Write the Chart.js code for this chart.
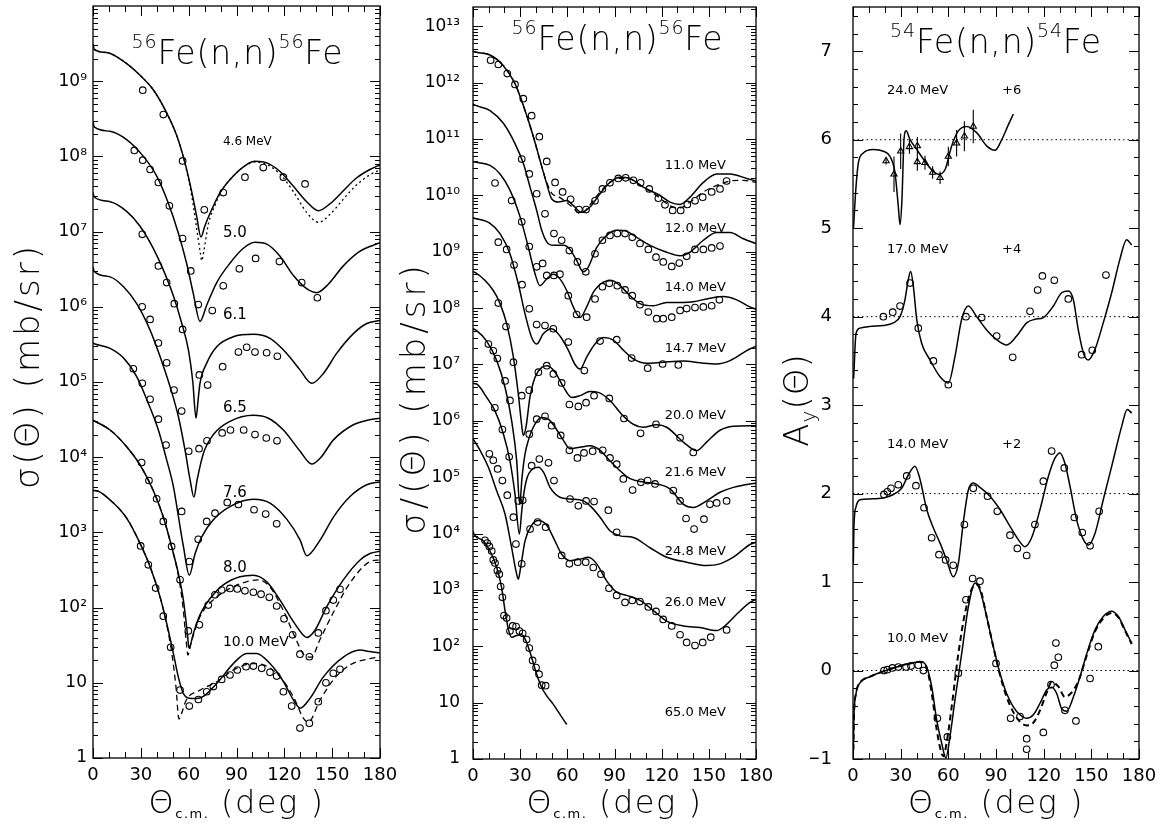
<!DOCTYPE html>
<html><head><meta charset="utf-8">
<script src="https://cdn.jsdelivr.net/npm/chart.js@4.4.1/dist/chart.umd.min.js"></script>
<style>
html,body{margin:0;padding:0;background:#fff;}
#wrap{position:relative;width:1164px;height:827px;overflow:hidden;background:#fff}
canvas{position:absolute;top:0}
</style></head><body>
<div id="wrap">
<canvas id="c1" width="400" height="827" style="left:0px;width:400px;height:827px"></canvas>
<canvas id="c2" width="390" height="827" style="left:390px;width:390px;height:827px"></canvas>
<canvas id="c3" width="384" height="827" style="left:780px;width:384px;height:827px"></canvas>
</div>
<script>
// ---------------- DATA : panel 1, 56Fe(n,n) 4.6 - 10.0 MeV ----------------
const p1_xTicks = [0, 30, 60, 90, 120, 150, 180];
const p1_yTicks = [1, 10, 1e2, 1e3, 1e4, 1e5, 1e6, 1e7, 1e8, 1e9];
const p1_c46 = [[0,3.1e9],[0.8,2.65e9],[8.6,2.4e9],[19,1.85e9],[29.5,1.2e9],[37.8,7.7e8],[46.2,3.8e8],[52.5,1.9e8],[57.7,8.2e7],[61.9,3.4e7],[65,1.6e7],[67.7,8.5e6],[70.2,1.2e7],[74.4,1.95e7],[79.7,3.3e7],[88,5.5e7],[96.4,7.8e7],[101.6,8.6e7],[109,8.2e7],[117.3,6.3e7],[125.7,4e7],[134,2.5e7],[141.3,1.9e7],[148.7,2.35e7],[157,3.5e7],[165.4,5.2e7],[173.7,6.7e7],[180,7.7e7]];
const p1_c46dot = [[0,3.1e9],[0.8,2.65e9],[8.6,2.4e9],[19,1.85e9],[29.5,1.2e9],[37.8,7.7e8],[46.2,3.8e8],[52.5,1.9e8],[57.7,8e7],[61.9,3e7],[65,1.1e7],[67.3,5.2e6],[68.2,4.1e6],[69.5,5.5e6],[72.5,1.3e7],[76,2.1e7],[80,3.3e7],[88,5.5e7],[96.4,7.7e7],[101.6,8.4e7],[109,7.8e7],[117.3,5.8e7],[125.7,3.4e7],[134,1.8e7],[141.5,1.33e7],[148.7,1.7e7],[157,2.7e7],[165.4,4.2e7],[173.7,5.7e7],[180,6.6e7]];
const p1_d46 = [[31.2,7.6e8],[44.1,3.6e8],[56.2,8.7e7],[69.8,1.95e7],[81.7,3.3e7],[95.3,5.3e7],[106.8,7.1e7],[119.4,5.3e7],[133,4.3e7]];
const p1_c50 = [[0,2.9e8],[0.8,2.47e8],[10.7,2.16e8],[21.1,1.67e8],[31.6,1.0e8],[39.9,5.5e7],[47.2,2.4e7],[53.5,9.6e6],[58.7,3.8e6],[62.9,1.5e6],[67.1,6.4e5],[71.3,1.05e6],[77.6,2.1e6],[85.9,3.8e6],[94.3,6e6],[101.6,7.2e6],[109,6.8e6],[117.3,4.7e6],[125.7,2.6e6],[134,1.74e6],[140.3,1.54e6],[147.6,2e6],[157,3.5e6],[167.5,5.5e6],[180,7.1e6]];
const p1_d50 = [[25.9,1.2e8],[31.2,8.9e7],[35.8,6.7e7],[41,4.5e7],[47.9,2.2e7],[56.2,8.1e6],[61.3,3e6],[66,1.07e6],[74.8,8.9e5],[81.7,1.9e6],[91.8,3.2e6],[102,4.4e6],[116.9,4e6],[130.9,2.1e6],[140.7,1.32e6]];
const p1_c61 = [[0,3.3e7],[0.8,2.88e7],[10.7,2.5e7],[21.1,1.86e7],[29.5,1.18e7],[37.8,6e6],[44.1,3.1e6],[50.4,1.4e6],[55.6,6.1e5],[59.8,2.7e5],[62.6,1e5],[64.6,3.3e4],[66,6e4],[67.1,9.6e4],[71.3,1.78e5],[77.6,2.95e5],[88,4e5],[100.6,4.3e5],[111,3.8e5],[121.5,2.4e5],[129.8,1.45e5],[137.2,9.6e4],[144.5,1.3e5],[152.8,2.4e5],[163.3,4.4e5],[171.7,6e5],[180,6.6e5]];
const p1_d61 = [[30.9,9.2e6],[41,3.5e6],[46.2,2.1e6],[51,1.1e6],[56.2,5e5],[66.7,1.24e5],[71.9,9.1e4],[81.3,1.6e5],[91.2,2.5e5],[96.4,2.9e5],[101.6,2.5e5],[108.9,2.45e5],[115.6,2.2e5]];
const p1_c65 = [[0,3.4e6],[0.8,2.95e6],[10.7,2.5e6],[19,1.86e6],[27.4,1.1e6],[35.8,4.9e5],[42,2.2e5],[48.3,8.7e4],[53.5,3.5e4],[57.7,1.25e4],[60.9,5e3],[63.3,2.95e3],[65.3,5e3],[69.2,1.12e4],[75.5,2e4],[86,3e4],[100.6,3.6e4],[110,3.3e4],[119.4,2.3e4],[129.9,1.2e4],[137.2,8.1e3],[143,1e4],[150.8,1.7e4],[163.3,2.7e4],[172,3.1e4],[180,3.3e4]];
const p1_d65 = [[30.8,1e6],[35.8,6.8e5],[41,3.3e5],[46.2,1.8e5],[50.8,7.8e4],[55.6,4.1e4],[60,1.2e4],[66.5,1.3e4],[71.5,1.65e4],[81,2.1e4],[86.2,2.3e4],[94.5,2.3e4],[101.6,2e4],[108.7,1.8e4],[115.4,1.65e4]];
const p1_c76 = [[0,3.3e5],[1.3,3.2e5],[10.7,2.8e5],[19,2.1e5],[27.4,1.18e5],[34.7,5.2e4],[41,2.3e4],[46.2,9.2e3],[50.4,4.1e3],[52.9,2e3],[56.7,650],[60.4,270],[64,520],[68.2,870],[75.5,1.47e3],[85.9,2.2e3],[100.6,2.75e3],[111,2.45e3],[121.5,1.5e3],[129.9,790],[134,490],[142.4,790],[150.8,1.6e3],[161.2,3e3],[171.7,4.3e3],[180,4.7e3]];
const p1_d76 = [[25.3,1.5e5],[30.9,9.6e4],[35.8,5.9e4],[41,3.2e4],[45.8,1.45e4],[55.6,1.9e3],[60.4,410],[66,810],[71.3,1.4e3],[76.5,1.8e3],[84.2,2.5e3],[91.2,2.35e3],[101,2e3],[108.3,1.75e3],[115.2,1.3e3]];
const p1_c80 = [[0,3.1e4],[10.7,2.3e4],[21.1,1.38e4],[29.5,7.9e3],[37.8,3.6e3],[44.1,1.6e3],[49.3,650],[53.5,286],[56.7,126],[59.2,45],[60.2,29],[62.9,45],[67.1,80],[73.4,132],[81.7,200],[92.2,257],[100.6,270],[109,220],[117.3,126],[125.7,65],[131.9,43],[134,40],[139.2,50],[146.6,103],[157,234],[167.5,430],[173.7,525],[180,560]];
const p1_c80dash = [[0,3.1e4],[10.7,2.3e4],[21.1,1.38e4],[29.5,7.9e3],[37.8,3.6e3],[44.1,1.6e3],[49.3,640],[53.5,270],[56.5,100],[58.5,35],[59.5,23.4],[61.7,35],[67.1,76],[75.3,126],[85.9,180],[96.2,220],[103.5,233],[110.8,190],[119.2,93],[127.5,37],[132.8,23],[137,22],[142.2,37],[150.5,84],[161,210],[173.7,408],[180,430]];
const p1_d80 = [[30.5,8.5e3],[35.1,4.9e3],[39.9,2.8e3],[44.1,1.4e3],[49.3,650],[54.6,234],[59.8,49],[66.7,59],[72.3,108],[76.5,148],[80.7,171],[85.9,180],[90.5,177],[95.3,167],[100.6,160],[105.4,151],[110.6,137],[115.2,105],[119.8,71],[125.2,43.4],[129.8,24],[135.7,22.2],[141.3,46],[146.1,91],[150.7,126],[154.9,175]];
const p1_c100 = [[0,3.6e3],[1.3,3.6e3],[10.7,2.7e3],[21.1,1.55e3],[29.5,715],[35.8,350],[42,140],[46.2,62],[50.4,24.6],[53.5,12],[56.7,7.2],[61.9,6.2],[67.1,6.3],[77.6,9.8],[88,18],[96.4,24.6],[102.6,24.6],[111,18],[119.4,10.4],[125.7,5.9],[129.9,4.6],[136.1,6.2],[144.5,12],[157,22],[167.5,27.3],[173.7,26],[180,25]];
const p1_c100dash = [[0,3.6e3],[1.3,3.6e3],[10.7,2.7e3],[21.1,1.55e3],[29.5,715],[35.8,350],[42,140],[46.2,60],[49.5,24],[52,9],[53.9,3.3],[55.5,3.9],[58.5,5.9],[67.1,8],[77.6,10.3],[88,14.8],[100.6,18],[109,16.6],[117.3,12],[125.7,6.5],[131.9,3.4],[135,3.0],[142.4,5.9],[150.8,11],[161.2,17.3],[173.7,21],[180,22]];
const p1_d100 = [[29.9,660],[34.7,370],[39.3,182],[44.1,77],[48.7,29.6],[54.6,8],[60.4,4.9],[66.1,6],[71.3,7.6],[75.5,8.9],[80.7,11.1],[85.9,12.7],[90.5,14.8],[96,16.4],[100.6,16.7],[105.8,15.6],[111,13.8],[115.2,12.3],[119.4,7.6],[124.6,4.9],[129.8,2.5],[135.7,2.9],[141.3,5.6],[146.1,10],[150.7,13.4],[154.9,15.1]];

// ---------------- DATA : panel 2, 56Fe(n,n) 11.0 - 65.0 MeV ----------------
const p2_yTicks = [1,10,1e2,1e3,1e4,1e5,1e6,1e7,1e8,1e9,1e10,1e11,1e12,1e13];
const p2_c110 = [[0,3.6e12],[1.3,3.5e12],[10.8,3.1e12],[19.3,2e12],[26.7,9.6e11],[33.1,3.2e11],[38.4,1.1e11],[42.6,4.2e10],[46.9,1.6e10],[50,8.7e9],[54.3,7.6e9],[59.6,8.1e9],[63.8,6.6e9],[69.1,5e9],[74.4,6.2e9],[80.8,1.07e10],[87.1,1.7e10],[93.5,2.1e10],[99.8,2e10],[108.3,1.4e10],[118.9,1e10],[125.3,7.6e9],[131.7,6.9e9],[138,9.3e9],[146.5,1.7e10],[155,2.4e10],[163.5,2.4e10],[174,2e10],[180,1.8e10]];
const p2_c110dash = [[0,3.6e12],[1.3,3.5e12],[10.8,3.1e12],[19.3,2e12],[26.7,9.6e11],[33.1,3.2e11],[38.4,1.1e11],[42.6,4.2e10],[46.9,1.7e10],[50,1.1e10],[54.3,9.5e9],[59.6,7.5e9],[63.8,6e9],[68,4.8e9],[71,5.2e9],[74.4,6.8e9],[80.8,1.15e10],[87.1,1.7e10],[93.5,2e10],[99.8,1.95e10],[108.3,1.4e10],[118.9,9e9],[125.3,6.5e9],[131.7,6e9],[138,7.6e9],[146.5,1.15e10],[155,1.5e10],[163.5,1.8e10],[172,1.85e10],[180,1.7e10]];
const p2_d110 = [[11.2,2.5e12],[16.1,2.1e12],[21.8,1.45e12],[26.7,9.3e11],[32,5.2e11],[37.3,2.6e11],[42.2,1.1e11],[46.9,4e10],[52.2,1.7e10],[57,1.15e10],[62.1,8.5e9],[67.4,5.6e9],[71.9,5.6e9],[77.6,8e9],[82.3,1.3e10],[87.1,1.67e10],[92.4,2e10],[97.1,2.05e10],[102,1.85e10],[106.6,1.67e10],[112.1,1.3e10],[117.9,8.9e9],[122.1,6.8e9],[127,5.4e9],[132.1,5.4e9],[136.3,6.9e9],[141.2,8e9],[146.1,9.3e9],[151.8,1.15e10],[157.1,1.3e10],[161.3,1.8e10]];
const p2_c120 = [[0,4.2e11],[1.3,4e11],[10.8,3.2e11],[19.3,1.9e11],[26.7,8.3e10],[32,3.7e10],[36.3,1.4e10],[40.5,5.4e9],[43.7,2.4e9],[46.9,1.5e9],[51.1,1.3e9],[57.5,1.3e9],[61.7,1.1e9],[65.9,7e8],[70.2,4.4e8],[73.4,5.4e8],[78.7,1.2e9],[85,1.95e9],[91.4,2.4e9],[97.7,2.3e9],[104.1,1.8e9],[112.6,1.3e9],[123.2,9.8e8],[131.7,8.5e8],[138,9.8e8],[146.5,1.6e9],[155,2.2e9],[163.5,2.2e9],[172,1.7e9],[180,1.4e9]];
const p2_d120 = [[31,4.4e10],[35.8,2.4e10],[40.5,1.07e10],[45.8,4.7e9],[51.5,2.1e9],[56.4,1.6e9],[61.3,1.05e9],[66.4,6.6e8],[71.7,4.4e8],[77.6,9.2e8],[82.3,1.6e9],[87.1,1.95e9],[91.8,2.1e9],[96.7,2.1e9],[101.3,1.8e9],[106.2,1.4e9],[111.5,1.1e9],[116.4,8e8],[121,6.6e8],[126.4,5.5e8],[131.2,6.3e8],[135.9,8.3e8],[141.2,1.1e9],[146.5,1.1e9],[151.8,1.17e9],[157.1,1.26e9]];
const p2_c140 = [[0,4e10],[1.3,3.9e10],[10.8,3.4e10],[17.2,2.4e10],[23.5,1.24e10],[29.9,4.2e9],[35.2,1.2e9],[39.4,4.1e8],[42.6,2.5e8],[46.9,3.3e8],[51.1,4e8],[55.3,3.3e8],[59.6,2.05e8],[63.8,1.05e8],[68.1,6.8e7],[72.3,1.05e8],[76.5,1.9e8],[82.9,2.9e8],[88.2,3.1e8],[93.5,2.5e8],[99.9,1.66e8],[106.2,1.2e8],[114.7,1.1e8],[123.2,1.26e8],[133.8,1.26e8],[140.1,1.3e8],[150.7,1.5e8],[159.2,1.6e8],[167.7,1.4e8],[176.2,1.05e8],[180,9.5e7]];
const p2_d140 = [[14,1.66e10],[24.6,8.1e9],[31,3.4e9],[35.8,1.24e9],[40.5,5.4e8],[44.3,6.2e8],[46.9,3.8e8],[51.5,3.8e8],[55.3,4e8],[60.6,1.66e8],[65.9,7.7e7],[72.3,6.9e7],[77.6,1.45e8],[82.3,2.4e8],[86.7,2.75e8],[91.8,2.5e8],[96.7,2.1e8],[101.3,1.66e8],[106.2,1.15e8],[111.5,8.5e7],[116.8,6.5e7],[121,6.5e7],[126.4,6.9e7],[131.7,9.1e7],[135.9,9.8e7],[141.2,1.02e8],[146.5,1.05e8],[151.8,1.1e8],[156.7,1.4e8]];
const p2_c147 = [[0,4e9],[1.3,3.9e9],[10.8,3.2e9],[17.2,2.1e9],[23.5,9.2e8],[28.8,2.7e8],[33.1,7.9e7],[37.3,3e7],[40.5,2.3e7],[44.7,3.5e7],[50,4.3e7],[55.3,3.2e7],[60.6,1.8e7],[64.9,1e7],[68.1,8.3e6],[72.3,1.35e7],[77.6,2.3e7],[82.9,3e7],[89.3,2.7e7],[95.6,1.8e7],[102,1.26e7],[110.5,1.05e7],[121,1.1e7],[133.8,1.15e7],[144.4,1.07e7],[155,1.02e7],[163.5,1.17e7],[176.2,1.9e7],[180,2.1e7]];
const p2_d147 = [[16.1,1.48e9],[21.4,1.1e9],[26.1,5.8e8],[31.2,2.6e8],[35.8,9.7e7],[40.5,5.1e7],[45.8,4.9e7],[51.1,4.3e7],[60.6,2.5e7],[70.8,7.8e6],[80.8,2.6e7],[91.4,2.75e7],[100.9,1.3e7],[111.1,8.6e6],[120.6,1.02e7],[130.6,9.8e6]];
const p2_c200 = [[0,4.4e8],[1.3,4.3e8],[12.9,2.05e8],[17.2,1.2e8],[21.4,5.3e7],[25.7,1.35e7],[28.8,3e6],[30.9,8.7e5],[32,5.5e5],[33.7,7.7e5],[36.2,2.6e6],[39.4,5.9e6],[43.7,8.9e6],[47.3,9.5e6],[52.2,7.3e6],[57.5,4e6],[62.8,2.6e6],[68,2.8e6],[74.4,3.3e6],[79.7,3.2e6],[87.1,2.3e6],[94.6,1.3e6],[101.9,8.7e5],[108.3,7.7e5],[116.8,8.5e5],[123.2,7.7e5],[133.8,4.2e5],[142.3,2.95e5],[148.6,4.2e5],[157.1,6.8e5],[165.6,8e5],[176.2,8.2e5],[180,8.2e5]];
const p2_d200 = [[16.1,1.23e8],[21,4.7e7],[25.7,1.1e7],[31,2.8e6],[35.8,3.5e6],[41.6,7.3e6],[46.9,9.5e6],[51.1,6.8e6],[56.4,4.7e6],[61.3,1.95e6],[67,1.8e6],[71.9,2.1e6],[77,2.8e6],[86.7,2.5e6],[96,1.1e6],[106.6,6e5],[116.4,8.7e5],[131.7,5e5],[140.1,2.75e5]];
const p2_c216 = [[0,4.3e7],[2.3,4e7],[8.7,2.6e7],[15.1,1.17e7],[20.4,3.9e6],[24.6,1e6],[27.8,1.95e5],[29.7,3.3e4],[31.2,1e5],[33,2.5e5],[35.2,4.5e5],[39.4,8.7e5],[43.7,1.15e6],[47.9,1.07e6],[52.2,7.7e5],[57.5,4.5e5],[61.7,3.2e5],[68,3.4e5],[74.4,3.6e5],[80.8,3e5],[87.1,1.95e5],[93.5,1.3e5],[99.9,9.4e4],[108.3,8.2e4],[116.8,7.6e4],[125.3,6.2e4],[133.8,3.3e4],[140.1,2.9e4],[148.6,3.8e4],[157.1,5.4e4],[165.6,6.6e4],[176.2,7.6e4],[180,7.8e4]];
const p2_d216 = [[9.8,2.3e7],[12.9,1.75e7],[15.5,1.27e7],[20.4,5.1e6],[23.5,2.3e6],[28.8,3.8e4],[31.6,3.9e4],[35.8,5.8e5],[40.5,1.07e6],[45.8,1.2e6],[50,8.2e5],[55.8,5.5e5],[61.3,3e5],[66.4,2.2e5],[70.6,2.7e5],[76.1,2.9e5],[82.5,3e5],[87.1,2.2e5],[91.4,1.7e5],[95.6,9.3e4],[101.5,5.9e4],[106.8,8.1e4],[111.1,8.7e4],[115.8,7.6e4],[127.4,5.8e4],[131.7,3.8e4],[135.5,1.85e4],[140.6,1.2e4],[146.9,1.8e4],[150.7,3.3e4],[155,3.5e4],[161.3,3.8e4]];
const p2_c248 = [[0,4.6e6],[2.3,4.5e6],[8.7,2.6e6],[14,1.5e6],[19.3,5.9e5],[23.5,1.95e5],[26.7,5e4],[29.5,9.8e3],[31,2.5e4],[32.5,5.5e4],[34.5,1e5],[37.3,1.35e5],[41.6,1.5e5],[45,1.2e5],[49,6.6e4],[55.3,4.4e4],[61.7,4.1e4],[70.2,3.8e4],[75,3e4],[80.8,1.95e4],[87.1,1.12e4],[93.5,9.1e3],[102,8.5e3],[112.6,5.6e3],[123.2,3.8e3],[135.9,3.1e3],[148.6,2.7e3],[157.1,2.9e3],[165.6,3.8e3],[176.2,6.4e3],[180,7e3]];
const p2_d248 = [[13.9,1.7e6],[18.7,7e5],[23,2.3e5],[37.3,1.6e5],[42.2,2.1e5],[48,1.8e5],[51.5,8.7e4],[61.7,4.1e4],[67,3.1e4],[71.9,3.8e4],[77,3.7e4],[86.1,2.6e4],[91.4,1.05e4]];
const p2_c260 = [[0,4.8e5],[4.5,3e5],[9.8,1.5e5],[15.1,5.7e4],[20.4,2.2e4],[24.6,5.6e3],[27.3,2.2e3],[28.8,1.55e3],[30.3,2.5e3],[33.1,7.4e3],[37.3,1.4e4],[41.6,1.7e4],[46.9,1.4e4],[51.1,8.5e3],[56.4,4.3e3],[61.7,3.3e3],[68,3.5e3],[73.4,3.8e3],[78.7,2.9e3],[85,1.45e3],[91.4,910],[97.7,800],[106.2,650],[114.7,430],[123.2,280],[133.8,230],[144.4,215],[155,190],[161.3,245],[167.7,370],[176.2,600],[180,680]];
const p2_d260 = [[10.4,2.6e5],[12.9,2e5],[15.7,1.4e5],[18.7,8.7e4],[21.8,4.8e4],[25.7,1.95e4],[27.3,6.5e3],[31,2.9e3],[36.3,1.2e4],[41.1,1.6e4],[46.2,1.3e4],[56.4,4.1e3],[61.3,2.9e3],[66.6,3.1e3],[71.7,3.1e3],[76.5,2.5e3],[81.4,1.9e3],[86.5,1.07e3],[91.4,800],[96.7,600],[101.3,650],[106.2,620],[111.5,500],[116.4,415],[121,300],[126.4,230],[131.7,160],[135.9,117],[141.2,103],[146.1,117],[151.2,145],[161.3,195]];
const p2_c650 = [[0,1.1e4],[0.6,9.8e3],[6.6,7.4e3],[10.8,4.9e3],[15.1,2.5e3],[18.2,1.1e3],[20.4,425],[22.5,200],[24.6,145],[27.8,155],[31,162],[34.1,117],[37.3,63],[40.5,32],[43.7,18.6],[46.9,13.2],[51.1,9.3],[55.3,6.2],[59.6,4.1]];
const p2_d650 = [[7.6,7.6e3],[9.1,6.8e3],[10.4,5.9e3],[11.9,4.9e3],[12.9,3.4e3],[14,3e3],[15.5,2.2e3],[16.7,1.9e3],[17.6,1.15e3],[18.7,740],[19.7,350],[21.4,316],[23.5,186],[25.2,230],[27.4,224],[29.5,186],[31.6,170],[34.1,132],[35.8,93],[37.9,56],[40.1,42],[42,32],[43.7,20.4],[46.2,20]];

// ---------------- DATA : panel 3, 54Fe(n,n) analysing power (offset) ----------------
const p3_yTicks = [-1,0,1,2,3,4,5,6,7];
const p3_zeroLines = [0, 2, 4, 6];
const p3_c240 = [[0.3,5.0],[1.9,5.47],[3.4,5.74],[6.5,5.85],[12.8,5.89],[19.1,5.87],[23.3,5.81],[26.4,5.63],[28.5,5.25],[29.6,5.04],[30.8,5.32],[32.1,6.0],[33.4,6.1],[35.9,6.0],[40.1,5.89],[44.3,5.78],[49.5,5.66],[53.7,5.61],[57.9,5.66],[62.1,5.93],[66.3,6.1],[71.5,6.15],[77.8,6.08],[84.1,5.93],[89.4,5.88],[93.6,6.0],[97.8,6.17],[100.9,6.29]];
const p3_d240 = [[20.8,5.76],[25.8,5.61],[30,5.87],[35.5,5.92],[40.5,5.93],[40.5,5.75],[45.3,5.74],[50.1,5.63],[54.8,5.57],[60,5.81],[65.2,5.96],[70.1,6.04],[75.7,6.15]];
const p3_d240err = [0.04,0.2,0.2,0.08,0.1,0.1,0.08,0.07,0.07,0.11,0.15,0.17,0.19];
const p3_c170 = [[0.4,3.3],[1.9,3.81],[4.4,3.87],[10.7,3.89],[19.1,3.9],[25.4,3.93],[29.6,4.0],[32.7,4.19],[34.8,4.42],[36.3,4.51],[38,4.34],[40.1,3.97],[43.2,3.7],[48.5,3.51],[54.8,3.32],[60,3.25],[64.2,3.55],[68.4,3.97],[72.6,4.12],[77.8,4.0],[84.1,3.85],[90.4,3.74],[96.7,3.68],[103,3.78],[109.3,3.93],[114.5,3.97],[119.8,3.99],[126.1,4.12],[131.3,4.27],[135.5,4.29],[138.7,4.19],[141.8,3.85],[145,3.59],[148.1,3.51],[152.3,3.63],[157.5,3.93],[162.8,4.27],[168,4.65],[172.2,4.87],[175.4,4.81]];
const p3_d170 = [[19.1,4.0],[25,4.05],[29.6,4.12],[35.9,4.38],[41.1,3.87],[50.6,3.5],[60,3.23],[71.1,4.0],[81,3.99],[90.4,3.78],[100.5,3.54],[111.4,4.06],[116.2,4.3],[119.2,4.46],[126.7,4.41],[135.5,4.2],[143.9,3.57],[150.6,3.62],[159.2,4.47]];
const p3_c140 = [[0.2,1.21],[0.6,1.63],[1.9,1.85],[4.4,1.93],[10.7,1.94],[19.1,1.95],[25.4,1.99],[30.6,2.06],[34.8,2.21],[39,2.31],[42.2,2.16],[46.4,1.82],[50.6,1.61],[54.8,1.44],[58.9,1.25],[63.1,1.06],[66.3,1.21],[69.4,1.67],[72.6,2.04],[75.7,2.12],[79.9,2.07],[86.2,1.97],[92.5,1.82],[98.8,1.63],[104,1.48],[108.2,1.4],[112.4,1.5],[117.7,1.82],[122.9,2.19],[127.1,2.4],[130.3,2.46],[133.4,2.34],[136.6,2.08],[140.8,1.7],[145,1.48],[148.1,1.42],[152.3,1.55],[157.5,1.93],[163.8,2.38],[169.1,2.76],[172.6,2.95],[175.4,2.91]];
const p3_d140 = [[19.5,1.99],[21.6,2.02],[23.9,2.06],[28.5,2.1],[33.8,2.2],[39.6,2.09],[44.7,1.84],[49.5,1.5],[54.1,1.31],[58.3,1.25],[63.1,1.19],[70.1,1.65],[75.7,2.06],[84.7,1.97],[90.8,1.8],[98.8,1.53],[103.4,1.38],[109.3,1.3],[114.5,1.65],[119.8,2.14],[125,2.48],[133,2.29],[139.3,1.73],[144.3,1.56],[149.2,1.41],[154.9,1.8]];
const p3_c100 = [[0.2,-0.9],[0.6,-0.52],[1.9,-0.26],[4.4,-0.14],[10.7,-0.07],[19.1,-0.01],[27.5,0.04],[35.9,0.08],[42.2,0.1],[46.4,0.04],[49.5,-0.18],[52.7,-0.56],[55.8,-0.82],[58.5,-0.99],[61,-0.75],[64.2,-0.33],[68.4,0.19],[72.6,0.72],[76.8,0.99],[79.9,0.91],[84.1,0.61],[88.3,0.27],[92.5,-0.03],[96.7,-0.26],[100.9,-0.41],[105.1,-0.5],[109.3,-0.54],[113.5,-0.5],[117.7,-0.37],[121.9,-0.22],[125,-0.19],[128.2,-0.26],[131.3,-0.43],[134.5,-0.46],[138.7,-0.3],[142.9,-0.07],[147.1,0.19],[152.3,0.46],[157.5,0.61],[162.8,0.67],[167,0.61],[171.2,0.46],[175.4,0.31]];
const p3_c100dash = [[0.2,-0.9],[0.6,-0.52],[1.9,-0.26],[4.4,-0.14],[10.7,-0.07],[19.1,-0.01],[27.5,0.04],[35.9,0.08],[42.2,0.1],[46.4,0.03],[49.5,-0.25],[52.7,-0.67],[55.8,-0.94],[56.9,-0.97],[58.9,-0.82],[62.1,-0.41],[66.3,0.19],[70.5,0.65],[75.7,0.95],[78.5,0.97],[80.5,0.9],[84.1,0.61],[88.3,0.27],[92.5,-0.05],[96.7,-0.3],[100.9,-0.47],[105.1,-0.58],[109.3,-0.62],[113.5,-0.59],[117.7,-0.45],[121.9,-0.25],[125,-0.13],[129.2,-0.18],[133.4,-0.3],[137,-0.26],[140.5,-0.17],[142.9,-0.07],[147.1,0.17],[152.3,0.44],[157.5,0.59],[162.8,0.65],[167,0.6],[171.2,0.45],[175.4,0.3]];
const p3_d100 = [[19.5,0.0],[21.6,0.01],[24.8,0.03],[28.5,0.04],[33.4,0.04],[36.5,0.05],[41.1,0.06],[44.3,0.0],[53.1,-0.54],[59.4,-0.75],[66.3,-0.03],[71.1,0.8],[75.3,1.04],[79.9,1.01],[90,0.08],[99.2,-0.54],[105.1,-0.52],[109.3,-0.77],[109.3,-0.89],[119.8,-0.7],[124.6,-0.16],[126.7,0.06],[127.7,0.31],[129.2,0.15],[133.4,-0.45],[140.3,-0.57],[149.2,-0.09],[154.4,0.27]];

// ---------------- helpers ----------------
const FONT = "'DejaVu Sans', 'Liberation Sans', sans-serif";
Chart.defaults.font.family = FONT;
Chart.defaults.color = '#000';
const SUP = {'0':'\u2070','1':'\u00b9','2':'\u00b2','3':'\u00b3','4':'\u2074','5':'\u2075','6':'\u2076','7':'\u2077','8':'\u2078','9':'\u2079'};
const sup = s => String(s).split('').map(c => SUP[c]).join('');
const logLabel = v => { const e = Math.round(Math.log10(v)); return e === 0 ? '1' : (e === 1 ? '10' : '10' + sup(e)); };
const P = a => a.map(p => ({x: p[0], y: p[1]}));
const curve = (d, dash, w) => ({data: P(d), showLine: true, pointRadius: 0, borderColor: '#000', borderWidth: w || 1.5, borderDash: dash || [], cubicInterpolationMode: 'monotone', fill: false});
const marks = (d, style, r) => ({data: P(d), showLine: false, pointRadius: r || 3.3, pointStyle: style || 'circle', pointBorderColor: '#000', pointBackgroundColor: 'rgba(0,0,0,0)', pointBorderWidth: 1.1});

function logTickList(maxExp) {
  const out = [];
  for (let e = 0; e <= maxExp; e++) { out.push([Math.pow(10, e), 10]); for (let k = 2; k <= 9; k++) out.push([k * Math.pow(10, e), 5]); }
  return out;
}
function linTickList() { const out = []; for (let i = -5; i <= 37; i++) out.push([i / 5, i % 5 === 0 ? 10 : 5]); return out; }

function framePlugin(yList) {
  return { id: 'frame', afterDraw(chart) {
    const {ctx, chartArea: {left, right, top, bottom}, scales: {x, y}} = chart;
    ctx.save(); ctx.strokeStyle = '#000'; ctx.lineWidth = 1.3;
    ctx.strokeRect(left, top, right - left, bottom - top);
    ctx.lineWidth = 1; ctx.beginPath();
    for (let v = 0; v <= 180; v += 10) {
      const px = Math.round(x.getPixelForValue(v)) + 0.5; const L = v % 30 === 0 ? 10 : 6;
      ctx.moveTo(px, bottom); ctx.lineTo(px, bottom - L); ctx.moveTo(px, top); ctx.lineTo(px, top + L);
    }
    for (const [v, L] of yList) {
      const py = Math.round(y.getPixelForValue(v)) + 0.5;
      if (py < top - 0.5 || py > bottom + 0.5) continue;
      ctx.moveTo(left, py); ctx.lineTo(left + L, py); ctx.moveTo(right, py); ctx.lineTo(right - L, py);
    }
    ctx.stroke(); ctx.restore();
  }};
}

function drawRich(ctx, parts, x, y, align, spacing) {
  let w = 0;
  const fontOf = p => (p.wt || '300') + ' ' + p.size + 'px ' + FONT;
  ctx.letterSpacing = (spacing || 0) + 'px';
  parts.forEach(p => { ctx.font = fontOf(p); p.w = ctx.measureText(p.t).width; w += p.w; });
  let cx = align === 'center' ? x - w / 2 : x;
  ctx.textAlign = 'left'; ctx.textBaseline = 'alphabetic';
  parts.forEach(p => { ctx.font = fontOf(p); ctx.fillText(p.t, cx, y + (p.dy || 0)); cx += p.w; });
  ctx.letterSpacing = '0px';
}

function textPlugin(cfg) {
  return { id: 'texts', afterDraw(chart) {
    const {ctx, chartArea: {left, right}, scales: {x, y}} = chart;
    ctx.save(); ctx.fillStyle = '#000';
    const mid = (left + right) / 2;
    drawRich(ctx, [{t: cfg.mass, size: 19, dy: -16}, {t: 'Fe(n,n)', size: 33}, {t: cfg.mass, size: 19, dy: -16}, {t: 'Fe', size: 33}], mid + cfg.titleDx, cfg.titleY, 'center', 0.8);
    drawRich(ctx, [{t: '\u0398', size: 32}, {t: 'c.m.', size: 13, dy: 5, wt: '400'}, {t: ' (deg )', size: 32}], mid, 813, 'center', 1.5);
    ctx.save(); ctx.translate(cfg.yTitleX, cfg.yTitleY); ctx.rotate(-Math.PI / 2);
    drawRich(ctx, cfg.yTitle, 0, 12, 'center', cfg.yTitleSpacing);
    ctx.restore();
    ctx.textBaseline = 'middle'; ctx.textAlign = 'left';
    cfg.labels.forEach(l => { ctx.font = l[3] + 'px ' + FONT; ctx.fillText(l[0], x.getPixelForValue(l[1]), y.getPixelForValue(l[2])); });
    ctx.restore();
  }};
}

const errPlugin = { id: 'errbars', afterDatasetsDraw(chart) {
  const {ctx, scales: {x, y}} = chart;
  chart.data.datasets.forEach(ds => {
    if (!ds.errBars) return;
    ctx.save(); ctx.strokeStyle = '#000'; ctx.lineWidth = 1.1; ctx.beginPath();
    ds.data.forEach((p, i) => {
      const e = ds.errBars[i]; const px = x.getPixelForValue(p.x);
      ctx.moveTo(px, y.getPixelForValue(p.y - e)); ctx.lineTo(px, y.getPixelForValue(p.y + e));
    });
    ctx.stroke(); ctx.restore();
  });
}};

function baseOptions(pad, yAxisW, xAxisH, yScale) {
  return {
    responsive: false, animation: false, devicePixelRatio: 1,
    layout: {padding: pad},
    plugins: {legend: {display: false}, tooltip: {enabled: false}},
    scales: {
      x: {type: 'linear', min: 0, max: 180,
          ticks: {stepSize: 30, font: {size: 18}, color: '#000', padding: 7, maxRotation: 0, autoSkip: false},
          grid: {display: false, drawTicks: false}, border: {display: false},
          afterBuildTicks: s => { s.ticks = p1_xTicks.map(v => ({value: v})); },
          afterFit: s => { s.height = xAxisH; s.paddingLeft = 0; s.paddingRight = 0; }},
      y: Object.assign({grid: {display: false, drawTicks: false}, border: {display: false}}, yScale,
          {afterFit: s => { s.width = yAxisW; s.paddingTop = 0; s.paddingBottom = 0; }})
    }
  };
}

// ---------------- panel 1 ----------------
new Chart(document.getElementById('c1'), {
  type: 'scatter',
  data: {datasets: [
    curve(p1_c46), curve(p1_c46dot, [2, 3], 1.3), marks(p1_d46),
    curve(p1_c50), marks(p1_d50),
    curve(p1_c61), marks(p1_d61),
    curve(p1_c65), marks(p1_d65),
    curve(p1_c76), marks(p1_d76),
    curve(p1_c80), curve(p1_c80dash, [6, 4], 1.3), marks(p1_d80),
    curve(p1_c100), curve(p1_c100dash, [6, 4], 1.3), marks(p1_d100)
  ]},
  options: baseOptions({left: 45, right: 20, top: 6, bottom: 0}, 48, 69,
    {type: 'logarithmic', min: 1, max: 1e10,
     ticks: {font: {size: 17}, color: '#000', padding: 6, callback: v => logLabel(v)},
     afterBuildTicks: s => { s.ticks = p1_yTicks.map(v => ({value: v})); }}),
  plugins: [framePlugin(logTickList(9)), textPlugin({
    mass: '56', titleDx: 1, titleY: 64,
    yTitle: [{t: '\u03c3(\u0398) (mb/sr)', size: 34}], yTitleX: 27, yTitleY: 366, yTitleSpacing: 3,
    labels: [['4.6 MeV', 81.5, 1.55e8, 12], ['5.0', 81.5, 9.5e6, 15], ['6.1', 81.5, 7.8e5, 15], ['6.5', 81.5, 4.5e4, 15],
             ['7.6', 81.5, 3.3e3, 15], ['8.0', 81.5, 340, 15], ['10.0 MeV', 81.5, 35, 14]]
  })]
});

// ---------------- panel 2 ----------------
new Chart(document.getElementById('c2'), {
  type: 'scatter',
  data: {datasets: [
    curve(p2_c110), curve(p2_c110dash, [6, 4], 1.3), marks(p2_d110),
    curve(p2_c120), marks(p2_d120),
    curve(p2_c140), marks(p2_d140),
    curve(p2_c147), marks(p2_d147),
    curve(p2_c200), marks(p2_d200),
    curve(p2_c216), marks(p2_d216),
    curve(p2_c248), marks(p2_d248),
    curve(p2_c260), marks(p2_d260),
    curve(p2_c650), marks(p2_d650)
  ]},
  options: baseOptions({left: 10, right: 24, top: 7, bottom: 0}, 73, 68,
    {type: 'logarithmic', min: 1, max: 2.2e13,
     ticks: {font: {size: 17}, color: '#000', padding: 13, callback: v => logLabel(v)},
     afterBuildTicks: s => { s.ticks = p2_yTicks.map(v => ({value: v})); }}),
  plugins: [framePlugin(logTickList(13)), textPlugin({
    mass: '56', titleDx: 3, titleY: 50,
    yTitle: [{t: '\u03c3/(\u0398) (mb/sr)', size: 34}], yTitleX: 23, yTitleY: 398, yTitleSpacing: 4,
    labels: [['11.0 MeV', 122, 3.4e10, 13], ['12.0 MeV', 122, 2.6e9, 13], ['14.0 MeV', 122, 2.3e8, 13], ['14.7 MeV', 122, 1.9e7, 13],
             ['20.0 MeV', 122, 1.23e6, 13], ['21.6 MeV', 122, 1.2e5, 13], ['24.8 MeV', 122, 4.8e3, 13], ['26.0 MeV', 122, 590, 13], ['65.0 MeV', 122, 6.6, 13]]
  })]
});

// ---------------- panel 3 ----------------
const refSets = p3_zeroLines.map(r => ({data: [{x: 0, y: r}, {x: 180, y: r}], showLine: true, pointRadius: 0, borderColor: '#000', borderWidth: 1, borderDash: [1.5, 3]}));
const tri = marks(p3_d240, 'triangle', 3.6); tri.errBars = p3_d240err;
new Chart(document.getElementById('c3'), {
  type: 'scatter',
  data: {datasets: refSets.concat([
    curve(p3_c240), tri,
    curve(p3_c170), marks(p3_d170),
    curve(p3_c140), marks(p3_d140),
    curve(p3_c100), curve(p3_c100dash, [6, 4], 2), marks(p3_d100)
  ])},
  options: baseOptions({left: 30, right: 25, top: 7, bottom: 0}, 43, 68,
    {type: 'linear', min: -1, max: 7.5,
     ticks: {font: {size: 18}, color: '#000', padding: 21, callback: v => (v < 0 ? '\u2212' + Math.abs(v) : String(v))},
     afterBuildTicks: s => { s.ticks = p3_yTicks.map(v => ({value: v})); }}),
  plugins: [framePlugin(linTickList()), errPlugin, textPlugin({
    mass: '54', titleDx: 0, titleY: 53,
    yTitle: [{t: 'A', size: 34}, {t: 'y', size: 20, dy: 7}, {t: '(\u0398)', size: 34}], yTitleX: 16, yTitleY: 400, yTitleSpacing: 1,
    labels: [['24.0 MeV', 21.4, 6.55, 13], ['+6', 93.8, 6.55, 13], ['17.0 MeV', 21.4, 4.76, 13], ['+4', 93.8, 4.76, 13],
             ['14.0 MeV', 21.4, 2.55, 13], ['+2', 93.8, 2.55, 13], ['10.0 MeV', 21.4, 0.36, 13]]
  })]
});
</script>
</body></html>
